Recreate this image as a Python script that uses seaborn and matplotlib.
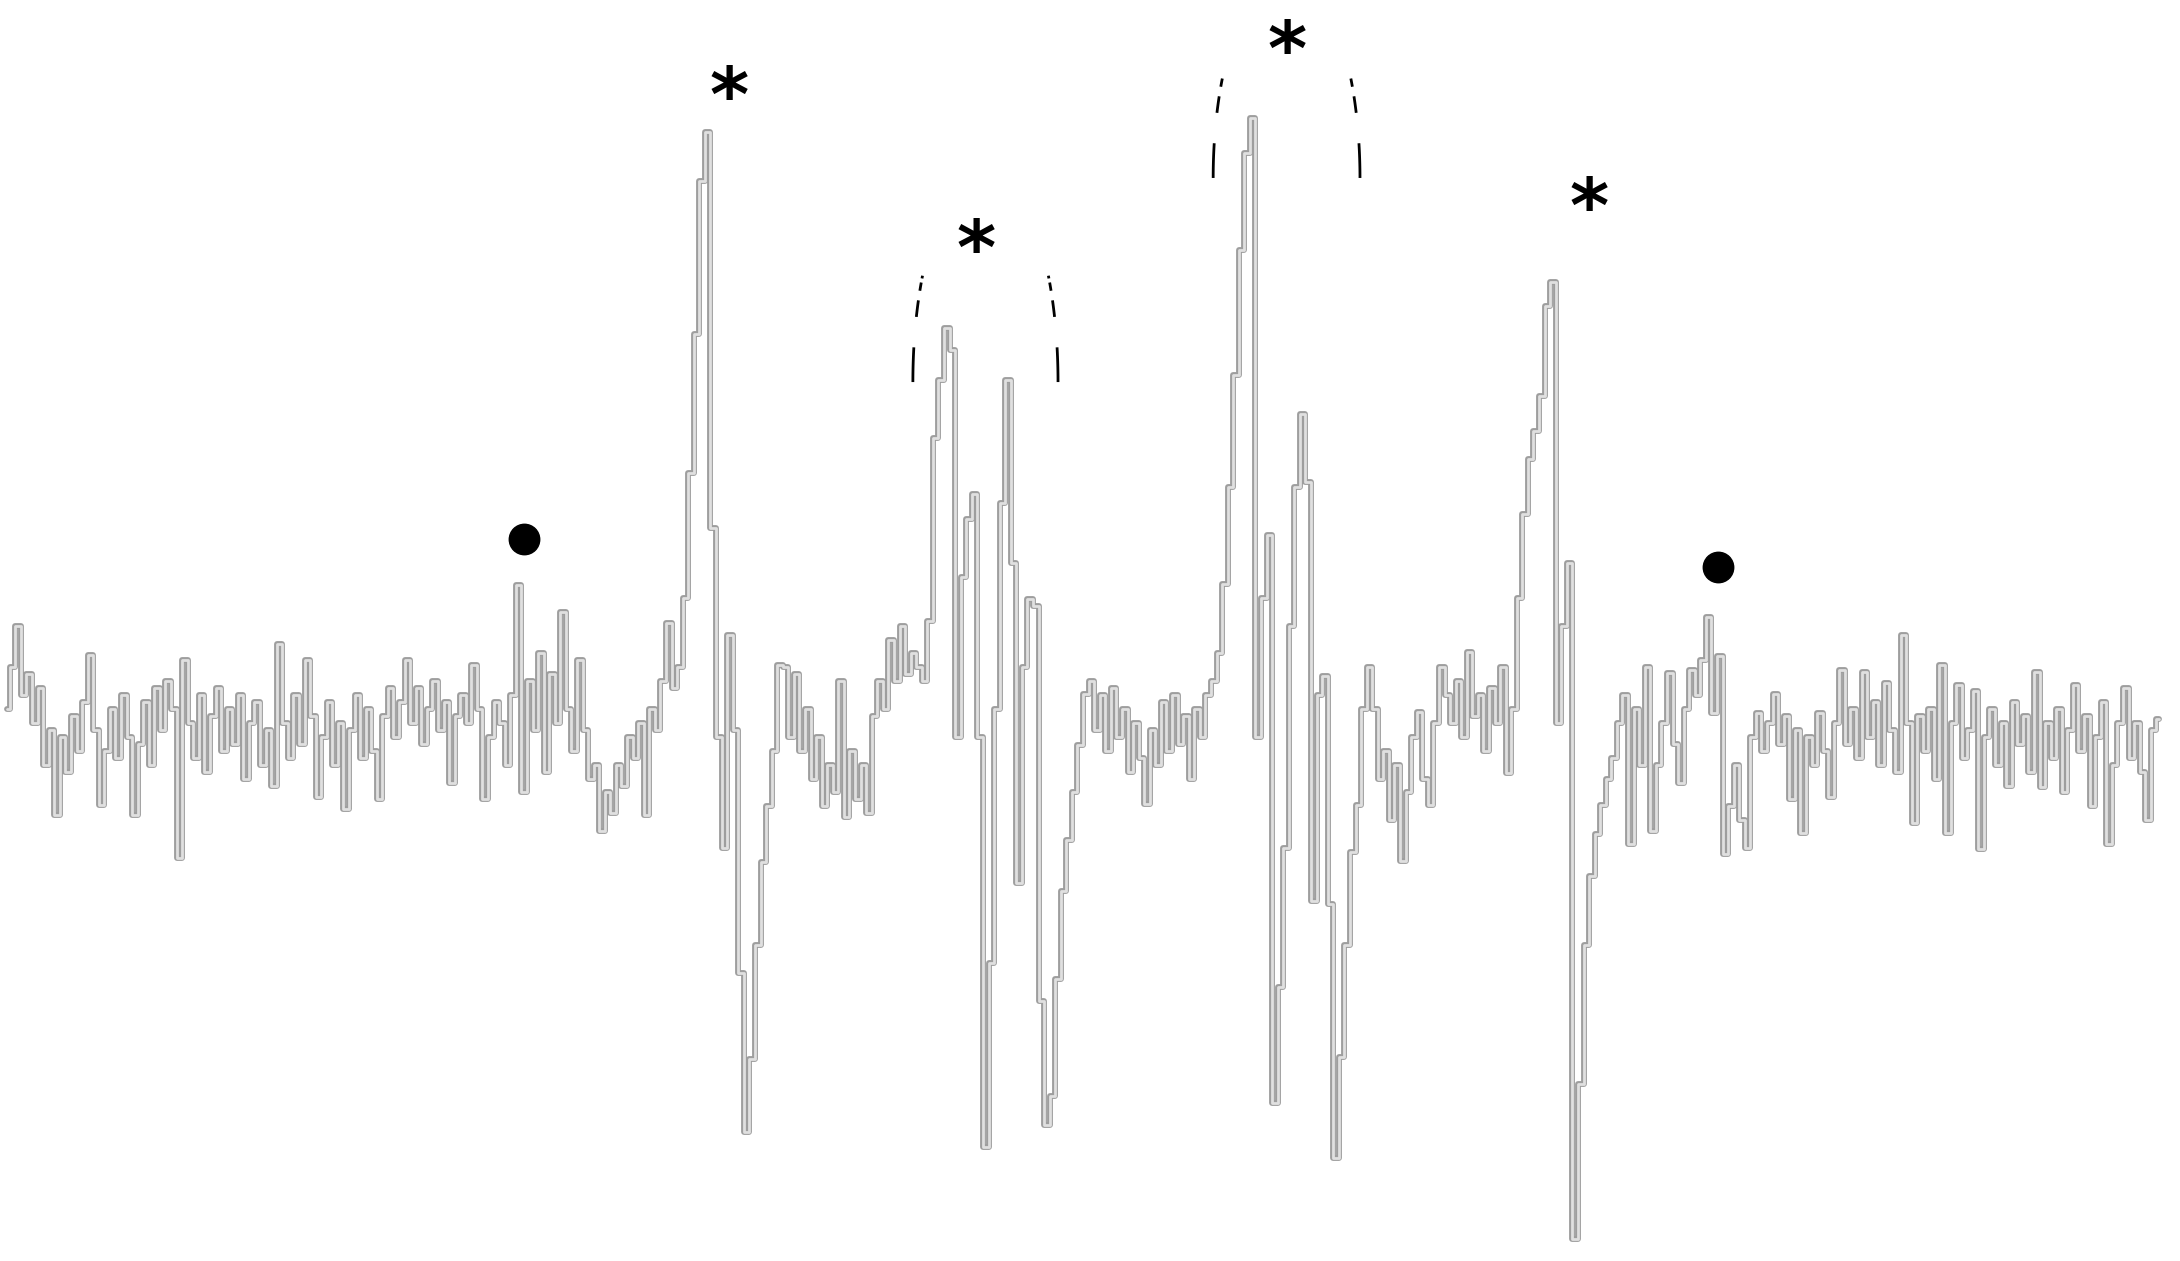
import numpy as np
import matplotlib
matplotlib.use("Agg")
import matplotlib.pyplot as plt
import seaborn as sns

# trace, one value per step, arbitrary intensity units
baseline_left = [20, 50, 80, 30, 45, 10, 35, -20, 5, -56,
                 0, -25, 15, -10, 25, 59, 5, -49, -10, 20,
                 -15, 30, 0, -56, -5, 25, -20, 35, 5, 40,
                 20, -87, 55, 10, -15, 30, -25, 15, 35, -10,
                 20, -5, 30, -30, 10, 25, -20, 5, -35, 67,
                 10, -15, 30, -5, 55, 15, -43, 0, 25, -20,
                 10, -52, 5, 30, -15, 20, -10, -45, 15, 35,
                 0, 25, 55, 10, 35, -5, 20, 40, 5, 25,
                 -33, 15, 30, 10, 52, 20, -45, 0, 25, 10,
                 -20, 30, 109, -40, 40, 5, 60, -25, 45, 10,
                 90, 20, -10, 55, 5, -30, -20, -68, -40, -55,
                 -20, -35, 0, -15, 10, -56, 20, 5, 40, 82,
                 35]
peak_1 = [50, 100, 190, 290, 400, 435, 150, 0, -80, 73,
          5, -170, -284, -232, -150, -90, -50, -10, 52]
baseline_mid1 = [50, 0, 45, -10, 20, -30, 0, -50, -20, -40,
                 40, -58, -10, -45, -20, -55, 15, 40, 20, 70,
                 40, 80, 45, 60, 50]
group_2 = [40, 83, 215, 257, 294, 278, 0, 115, 157, 175,
           0, -295, -163, 20, 168, 257, 125, -105, 50, 99,
           94, -190, -279, -258, -174, -111, -74, -40, -6, 31]
baseline_mid2 = [40, 5, 30, -10, 35, 0, 20, -25, 10, -15,
                 -48, 5, -20, 25, -10, 30, -5, 15, -30, 20,
                 0, 30]
group_3 = [40, 60, 110, 180, 260, 350, 420, 445, 0, 100,
           145, -263, -180, -80, 80, 180, 232, 183, -118, 30,
           44, -120, -303, -230, -150, -83, -49, 20, 50]
baseline_mid3 = [20, -30, -10, -60, -20, -89, -40, 0, 18, -30,
                 -49, 10, 50, 30, 10, 40, 0, 61, 15, 30,
                 -10, 35, 10, 50, -26]
peak_4 = [20, 100, 160, 200, 220, 245, 310, 327, 10, 80,
          125, -361, -250, -150, -100, -70, -49, -30, -15, 10]
baseline_right = [30, -77, 20, -20, 50, -68, -20, 10, 46, -5,
                  -33, 20, 48, 30, 55, 86, 17, 58, -84, -50,
                  -20, -60, -80, 0, 17, -10, 10, 31, -5, 15,
                  -45, 5, -69, 0, -20, 17, -10, -43, 10, 48,
                  -5, 20, -15, 47, 0, 25, -20, 39, 5, -25,
                  73, 10, -62, 15, -10, 20, -30, 52, -69, 10,
                  37, -15, 5, 33, -81, 0, 20, -20, 10, -35,
                  25, -5, 15, -25, 47, -36, 10, -15, 20, -40,
                  5, 37, -10, 15, -50, 0, 25, -77, -20, 10,
                  35, -15, 10, -25, -60, 5, 13]

signal = np.array(baseline_left + peak_1 + baseline_mid1 + group_2 + baseline_mid2
                  + group_3 + baseline_mid3 + peak_4 + baseline_right, dtype=float)
field = np.arange(len(signal))

# annotation marks (data units)
star_x = [129.8, 174.2, 230.2, 284.5]
star_y = [458.0, 348.0, 491.0, 378.0]
dot_x = [93.0, 307.7]
dot_y = [142.3, 122.0]
bracket_left = [162.9, 216.9]
bracket_right = [189.0, 243.3]
bracket_top = [332.0, 476.0]
bracket_base = [255.2, 402.0]

sns.set_style("white")
plt.rcParams["lines.scale_dashes"] = False

fig = plt.figure(figsize=(21.8, 12.61), dpi=100)
ax = fig.add_axes([0, 0, 1, 1])

# outer grey stroke + pale inner stroke gives the doubled-scan look
sns.lineplot(x=field, y=signal, ax=ax, estimator=None, drawstyle="steps-mid",
             color="#9e9e9e", lw=4.2)
sns.lineplot(x=field, y=signal, ax=ax, estimator=None, drawstyle="steps-mid",
             color="#e0e0e0", lw=2.0)

for sx, sy in zip(star_x, star_y):
    ax.text(sx, sy, "*", fontsize=54, fontweight="bold", color="black",
            ha="center", va="center", family="DejaVu Sans")

ax.scatter(dot_x, dot_y, s=480, color="black", zorder=5)

# dashed rounded brackets over the two double peaks
t = np.linspace(0, np.radians(30), 40)
dash = (0, (25, 22, 12, 7, 6, 3, 2, 60))
for l, r, top, base in zip(bracket_left, bracket_right, bracket_top, bracket_base):
    a = (r - l) / 2
    cx = (l + r) / 2
    b = (top - base) / np.sin(t[-1])
    ys = base + b * np.sin(t)
    ax.plot(cx - a * np.cos(t), ys, color="black", lw=2, linestyle=dash)
    ax.plot(cx + a * np.cos(t), ys, color="black", lw=2, linestyle=dash)

ax.set_xlim(-1.26, 390.76)
ax.set_ylim(-377, 530)
ax.axis("off")

fig.savefig("out.png", dpi=100, facecolor="white")
